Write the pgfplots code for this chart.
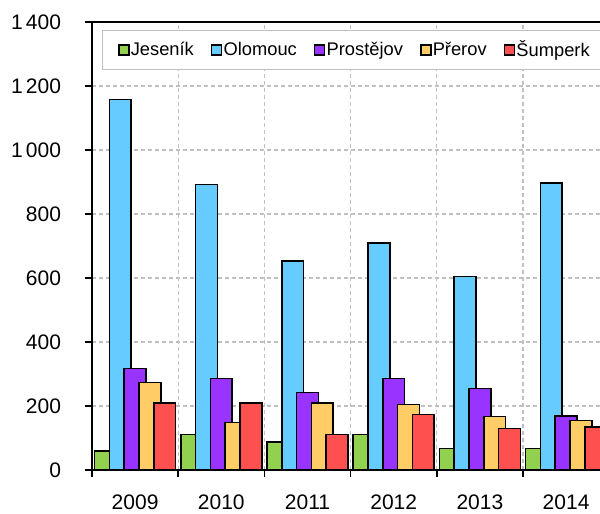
\documentclass[border=0pt]{standalone}
\usepackage{fontspec}
\setmainfont{Liberation Sans}
\usepackage{pgfplots}
\pgfplotsset{compat=1.18}
\definecolor{cJes}{HTML}{92D050}
\definecolor{cOlo}{HTML}{66CCFF}
\definecolor{cPro}{HTML}{9933FF}
\definecolor{cPre}{HTML}{FFCC66}
\definecolor{cSum}{HTML}{FF5050}
\definecolor{gridc}{HTML}{C0C0C0}
\pgfplotsset{
  legimg/.style={legend image code/.code={\draw[##1, line width=0.7pt] (0pt,-2.5pt) rectangle (5pt,2.5pt);}},
}
\newcommand{\ts}{\hspace{0.15em}}
\begin{document}
\begin{tikzpicture}
\begin{axis}[
  scale only axis, width=258.6pt, height=224pt,
  xmin=-0.5, xmax=5.5, ymin=0, ymax=1400,
  ybar, bar width=0.252,
  xtick={-0.5,0.5,...,5.5},
  x tick label as interval,
  xticklabels={2009,2010,2011,2012,2013,2014},
  ytick={0,200,...,1400},
  yticklabels={0,200,400,600,800,1\ts000,1\ts200,1\ts400},
  tick align=outside, tick pos=left,
  major tick length=3.25pt,
  grid=major,
  major grid style={gridc, dash pattern=on 2pt off 1.5pt, line width=0.6pt},
  axis line style={line width=1pt},
  tick style={black, line width=0.8pt},
  ticklabel style={font=\fontsize{10.5}{12}\selectfont},
  yticklabel style={xshift=-8.7pt},
  xticklabel style={inner sep=0pt, yshift=-8.9pt},
  legend columns=-1,
  legend style={at={(0,1)}, anchor=north west, xshift=4.85pt, yshift=-4pt,
    draw=gridc, line width=0.5pt, fill=white,
    font=\fontsize{9.15}{11}\selectfont,
    nodes={inner xsep=0.6pt},
    /tikz/every even column/.append style={column sep=8pt},
    inner xsep=8pt, inner ysep=3pt},
  every axis plot/.append style={draw=black, line width=0.75pt, legimg},
]
\addplot[fill=cJes, bar shift=-0.3434] coordinates {(0,60) (1,111) (2,87) (3,111) (4,67) (5,67)};
\addplot[fill=cOlo, bar shift=-0.1717] coordinates {(0,1158) (1,892) (2,653) (3,709) (4,604) (5,897)};
\addplot[fill=cPro, bar shift=0] coordinates {(0,317) (1,286) (2,242) (3,286) (4,255) (5,168)};
\addplot[fill=cPre, bar shift=0.1717] coordinates {(0,273) (1,148) (2,210) (3,204) (4,167) (5,154)};
\addplot[fill=cSum, bar shift=0.3434] coordinates {(0,210) (1,210) (2,111) (3,174) (4,129) (5,135)};
\legend{Jeseník,Olomouc,Prostějov,Přerov,Šumperk}
\end{axis}
\pgfresetboundingbox
\path[use as bounding box] (-46pt,-22pt) rectangle (254pt,235pt);
\end{tikzpicture}
\end{document}
